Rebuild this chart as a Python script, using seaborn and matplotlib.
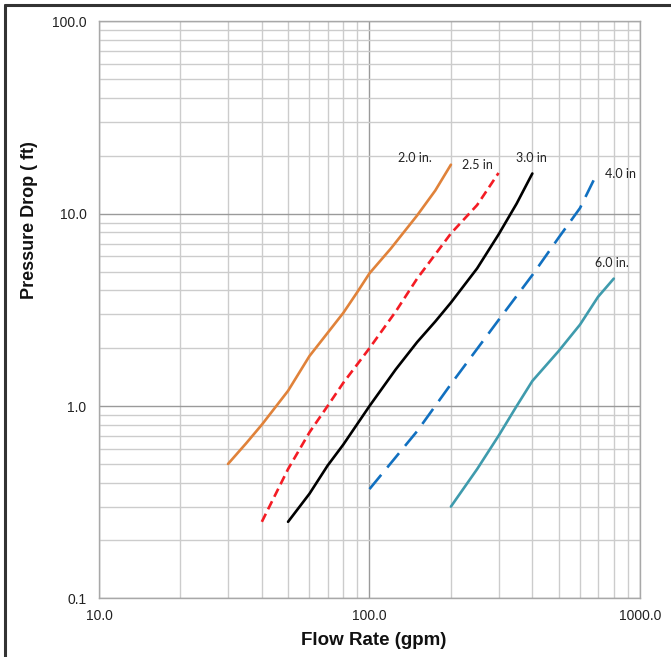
#!/usr/bin/env python3
# -*- coding: utf-8 -*-

"""
Pressure drop vs flow rate for several pipe sizes (log-log chart)
"""

import numpy as np
import pandas as pd
import matplotlib
matplotlib.use("Agg")
import matplotlib.pyplot as plt
from matplotlib.ticker import LogLocator, FuncFormatter, NullFormatter
from matplotlib.lines import Line2D
import seaborn as sns

# Data (flow in gpm, pressure drop in ft)
flow_20 = [30, 35, 40, 50, 60, 70, 80, 90, 100, 120, 150, 175, 200]
drop_20 = [0.5, 0.64, 0.8, 1.2, 1.82, 2.4, 3.05, 3.9, 4.9, 6.6, 9.8, 13.2, 18.0]

flow_25 = [40, 50, 60, 70, 80, 100, 125, 150, 200, 250, 300]
drop_25 = [0.25, 0.47, 0.73, 1.0, 1.32, 2.0, 3.1, 4.6, 7.9, 11.1, 16.3]

flow_30 = [50, 60, 70, 80, 100, 125, 150, 175, 200, 250, 300, 350, 400]
drop_30 = [0.25, 0.35, 0.49, 0.63, 1.0, 1.55, 2.15, 2.75, 3.45, 5.2, 7.8, 11.3, 16.2]

flow_40 = [100, 150, 200, 300, 400, 500, 600, 675]
drop_40 = [0.37, 0.74, 1.3, 2.8, 4.8, 7.5, 10.7, 15.0]

flow_60 = [200, 250, 300, 350, 400, 500, 600, 700, 800]
drop_60 = [0.30, 0.47, 0.70, 1.0, 1.35, 1.93, 2.65, 3.7, 4.6]

size_labels = ["2.0 in.", "2.5 in", "3.0 in", "4.0 in", "6.0 in."]

x_ticks = [10, 100, 1000]
y_ticks = [0.1, 1, 10, 100]


def build_frame():
    """Put every series in one long table"""
    parts = []
    for name, fx, dy in zip(size_labels,
                            [flow_20, flow_25, flow_30, flow_40, flow_60],
                            [drop_20, drop_25, drop_30, drop_40, drop_60]):
        parts.append(pd.DataFrame({"size": name, "flow": fx, "drop": dy}))
    return pd.concat(parts, ignore_index=True)


def main():
    sns.set_style("white")
    plt.rcParams["font.family"] = ["Liberation Sans", "DejaVu Sans"]

    df = build_frame()

    fig = plt.figure(figsize=(6.71, 6.57), dpi=100)
    ax = fig.add_axes([0.1475, 0.0893, 0.8063, 0.878])

    # line styles per pipe size
    styles = {
        "2.0 in.": dict(color="#E0823A", linestyle="-"),
        "2.5 in": dict(color="#F41C24", linestyle=(0, (3.4, 1.9))),
        "3.0 in": dict(color="#000000", linestyle="-"),
        "4.0 in": dict(color="#1170C0", linestyle=(0, (7.0, 3.6))),
        "6.0 in.": dict(color="#3F9BAD", linestyle="-"),
    }
    # label offsets from the last point (pixels)
    offsets = {
        "2.0 in.": (-36, 7),
        "2.5 in": (-21, 8),
        "3.0 in": (-1, 15),
        "4.0 in": (27, 6),
        "6.0 in.": (-2, 16),
    }

    for name in size_labels:
        sub = df[df["size"] == name]
        sns.lineplot(data=sub, x="flow", y="drop", ax=ax, linewidth=1.9,
                     sort=False, estimator=None, legend=False,
                     **styles[name])
        ax.annotate(name, (sub["flow"].iloc[-1], sub["drop"].iloc[-1]),
                    xytext=offsets[name], textcoords="offset pixels",
                    ha="center", va="center", fontsize=9,
                    family=["Lato", "DejaVu Sans"], color="#222222")

    ax.set_xscale("log")
    ax.set_yscale("log")
    ax.set_xlim(10, 1000)
    ax.set_ylim(0.1, 100)

    ax.xaxis.set_minor_locator(LogLocator(base=10, subs=np.arange(2, 10)))
    ax.yaxis.set_minor_locator(LogLocator(base=10, subs=np.arange(2, 10)))
    ax.set_xticks(x_ticks)
    ax.set_yticks(y_ticks)
    fmt = FuncFormatter(lambda v, p: f"{v:.1f}")
    ax.xaxis.set_major_formatter(fmt)
    ax.yaxis.set_major_formatter(fmt)
    ax.xaxis.set_minor_formatter(NullFormatter())
    ax.yaxis.set_minor_formatter(NullFormatter())

    ax.grid(True, which="major", color="#9a9a9a", linewidth=1.0)
    ax.grid(True, which="minor", color="#cccccc", linewidth=1.0)
    ax.set_axisbelow(True)

    ax.tick_params(axis="x", which="both", length=0, pad=8, labelsize=10,
                   colors="#222222")
    ax.tick_params(axis="y", which="major", length=3, width=1, pad=6,
                   labelsize=10, color="#9a9a9a", labelcolor="#222222")
    ax.tick_params(axis="y", which="minor", length=0)

    for side in ["left", "bottom", "top", "right"]:
        ax.spines[side].set_color("#a8a8a8")
        ax.spines[side].set_linewidth(1.0)

    ax.set_xlabel("Flow Rate (gpm)", fontsize=13.5, fontweight="bold",
                  color="#111111")
    ax.set_ylabel("Pressure Drop ( ft)", fontsize=13, fontweight="bold",
                  color="#111111")
    ax.xaxis.set_label_coords(0.508, -0.058)
    ax.yaxis.set_label_coords(-0.112, 0.656)

    # outer frame (top and left only)
    fig.add_artist(Line2D([5 / 671, 1.0], [1 - 5 / 657, 1 - 5 / 657],
                          transform=fig.transFigure, color="#333333",
                          linewidth=2.2))
    fig.add_artist(Line2D([5 / 671, 5 / 671], [0.0, 1 - 5 / 657],
                          transform=fig.transFigure, color="#333333",
                          linewidth=2.2))

    fig.savefig("out.png", dpi=100)


if __name__ == "__main__":
    main()
